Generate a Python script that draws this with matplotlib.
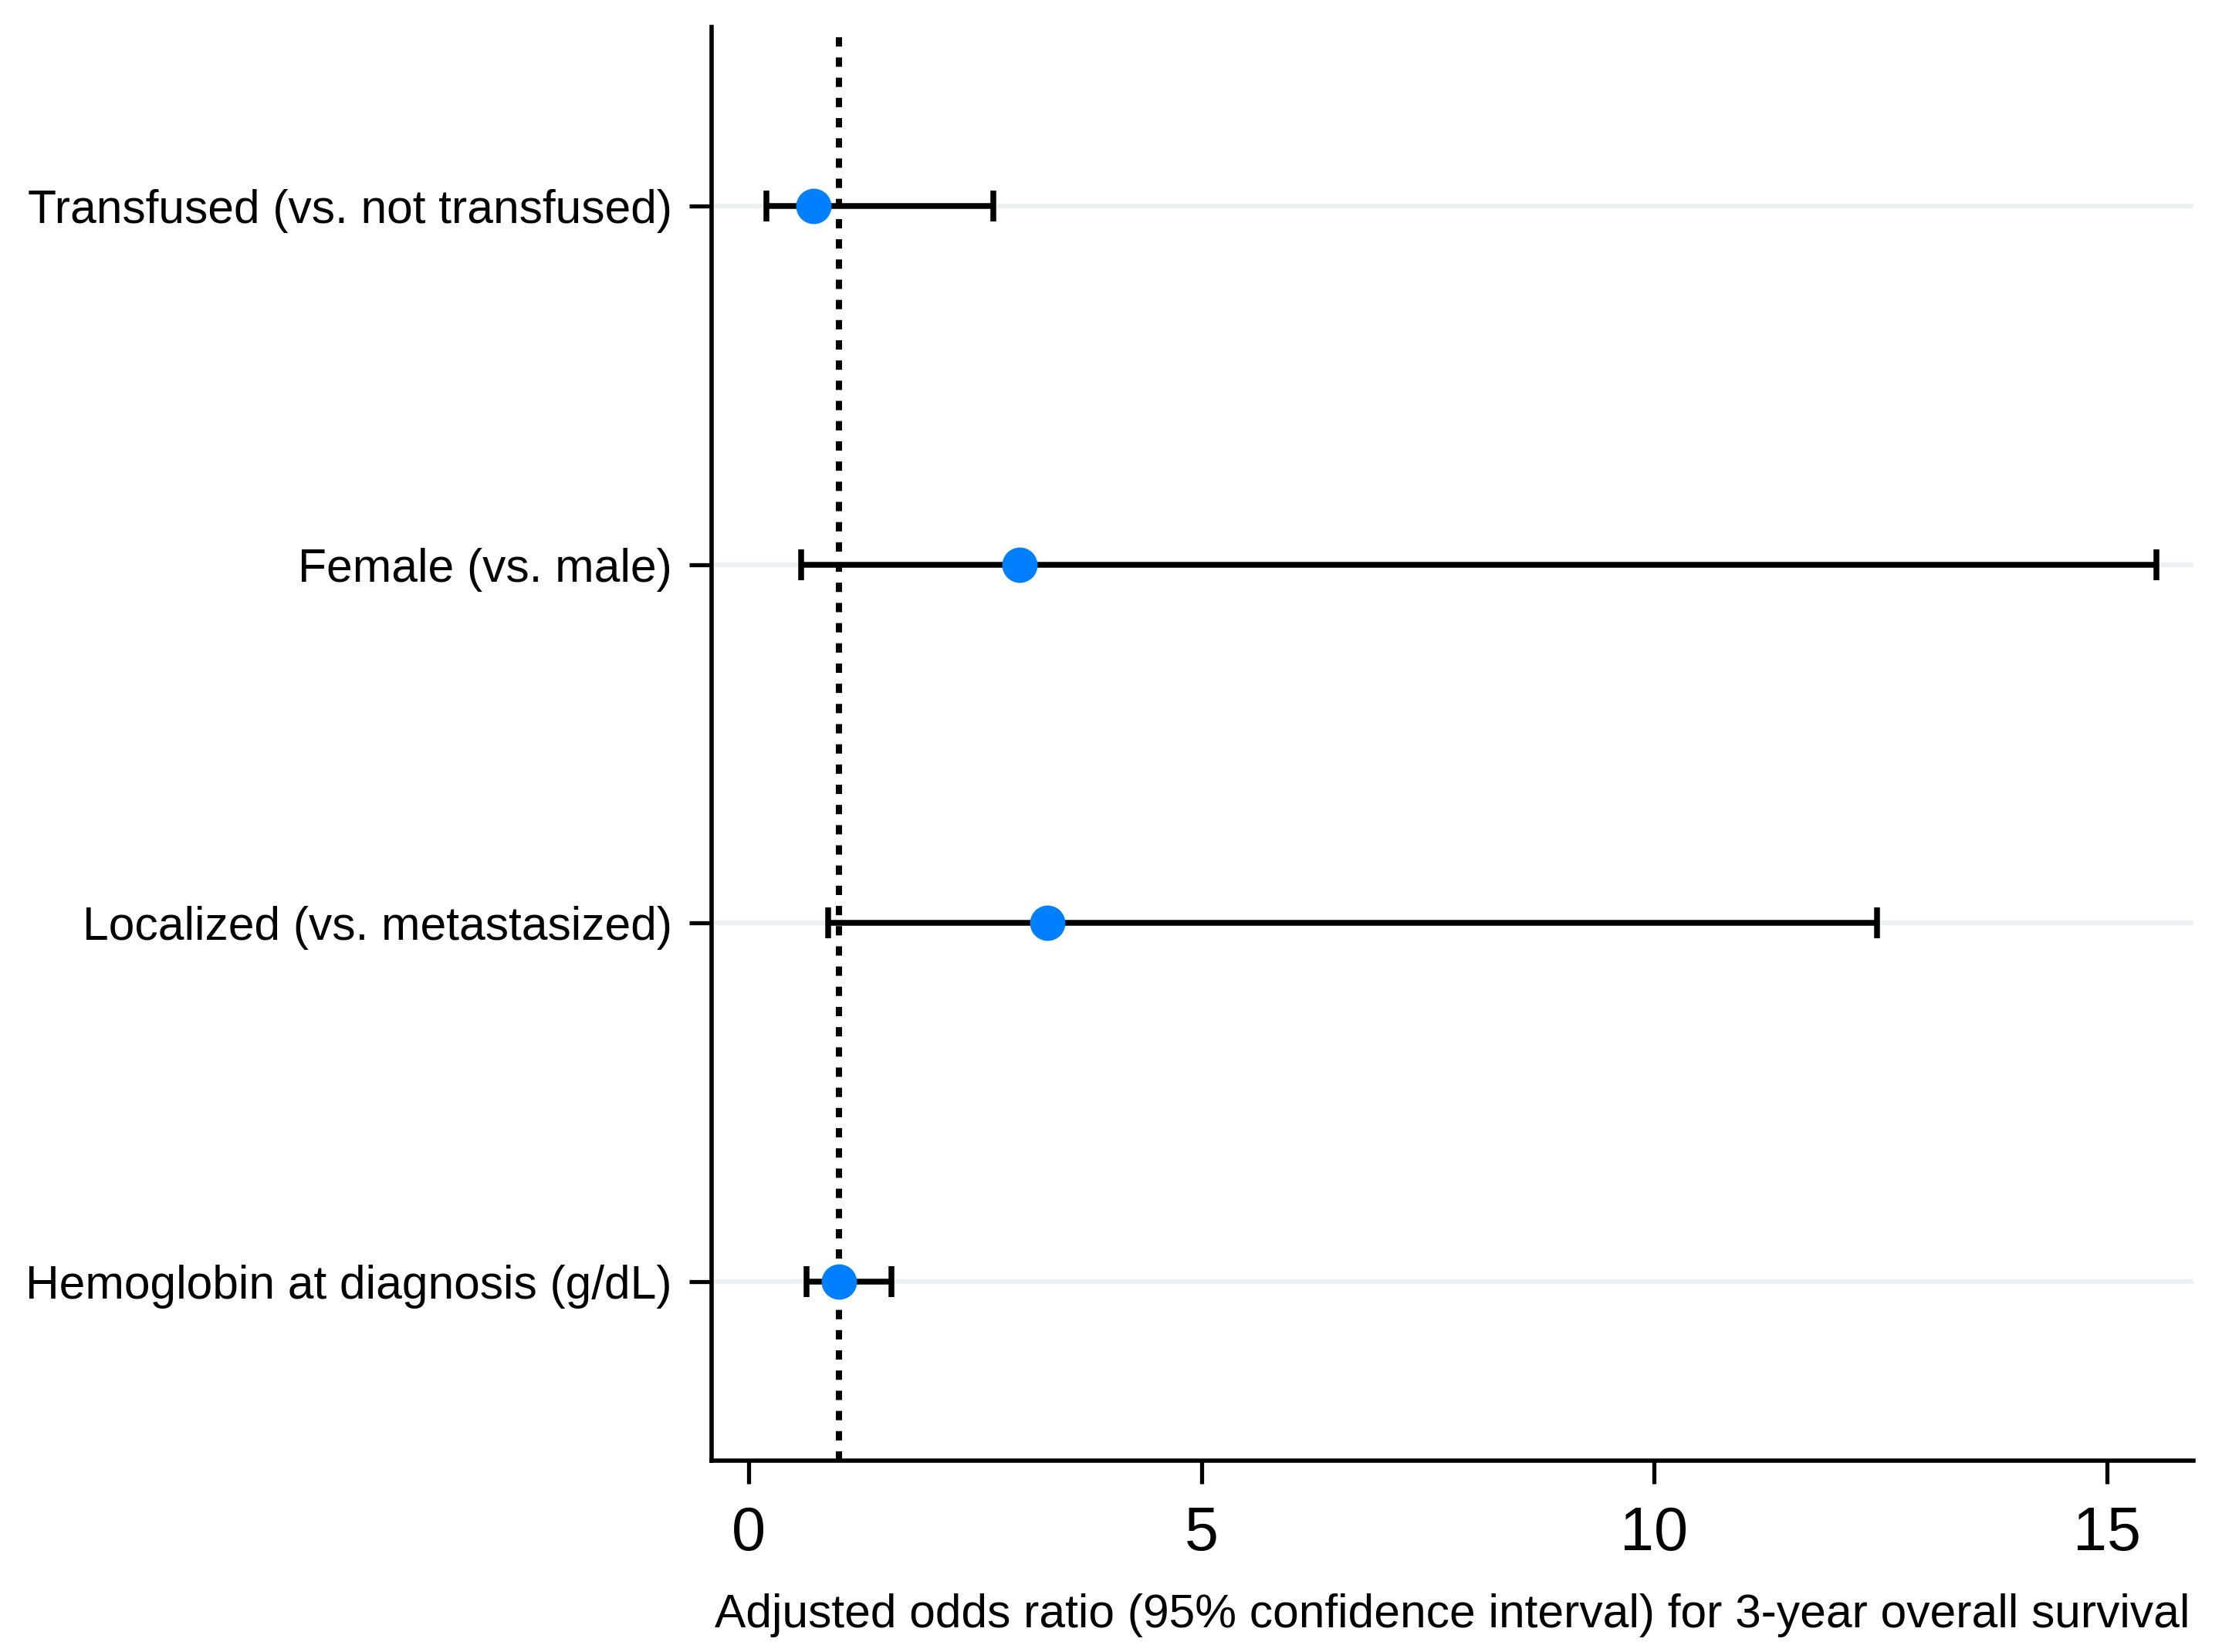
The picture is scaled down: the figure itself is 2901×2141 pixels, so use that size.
import matplotlib
matplotlib.use("Agg")
import matplotlib.pyplot as plt

plt.rcParams['font.family'] = ['Liberation Sans', 'DejaVu Sans']

labels = ['Transfused (vs. not transfused)',
          'Female (vs. male)',
          'Localized (vs. metastasized)',
          'Hemoglobin at diagnosis (g/dL)']
odds = [0.72, 2.99, 3.30, 1.00]
lower = [0.20, 0.58, 0.88, 0.64]
upper = [2.70, 15.55, 12.46, 1.58]
rows = [1, 2, 3, 4]

fig = plt.figure(figsize=(14.505, 10.705), dpi=200)
ax = fig.add_axes([0.3178, 0.1158, 0.9797 - 0.3178, 0.9837 - 0.1158])

err_lo = [o - l for o, l in zip(odds, lower)]
err_hi = [u - o for o, u in zip(odds, upper)]

# reference line at OR = 1
ax.axvline(1, color='black', lw=2.9, dashes=(1.5, 1.75), zorder=2)

ax.errorbar(odds, rows, xerr=[err_lo, err_hi], fmt='none', ecolor='black',
            elinewidth=2.7, capsize=7.2, capthick=2.7, zorder=3)
ax.plot(odds, rows, 'o', color='#0080FF', markersize=15.5, zorder=4)

ax.set_xlim(-0.41, 15.96)
ax.set_ylim(4.5, 0.5)
ax.set_yticks(rows)
ax.set_yticklabels(labels, fontsize=21.8)
ax.set_xticks([0, 5, 10, 15])
ax.tick_params(axis='x', labelsize=28.5, length=10.8, width=1.9, pad=10)
ax.tick_params(axis='y', length=10.5, width=1.9, pad=8)

ax.yaxis.grid(True, color='#EAF2F3', lw=2.2)
ax.set_axisbelow(True)

for s in ['top', 'right']:
    ax.spines[s].set_visible(False)
for s in ['left', 'bottom']:
    ax.spines[s].set_linewidth(2.0)

ax.set_xlabel('Adjusted odds ratio (95% confidence interval) for 3-year overall survival',
              fontsize=21.8, labelpad=14)

fig.savefig('out.png', dpi=200)
